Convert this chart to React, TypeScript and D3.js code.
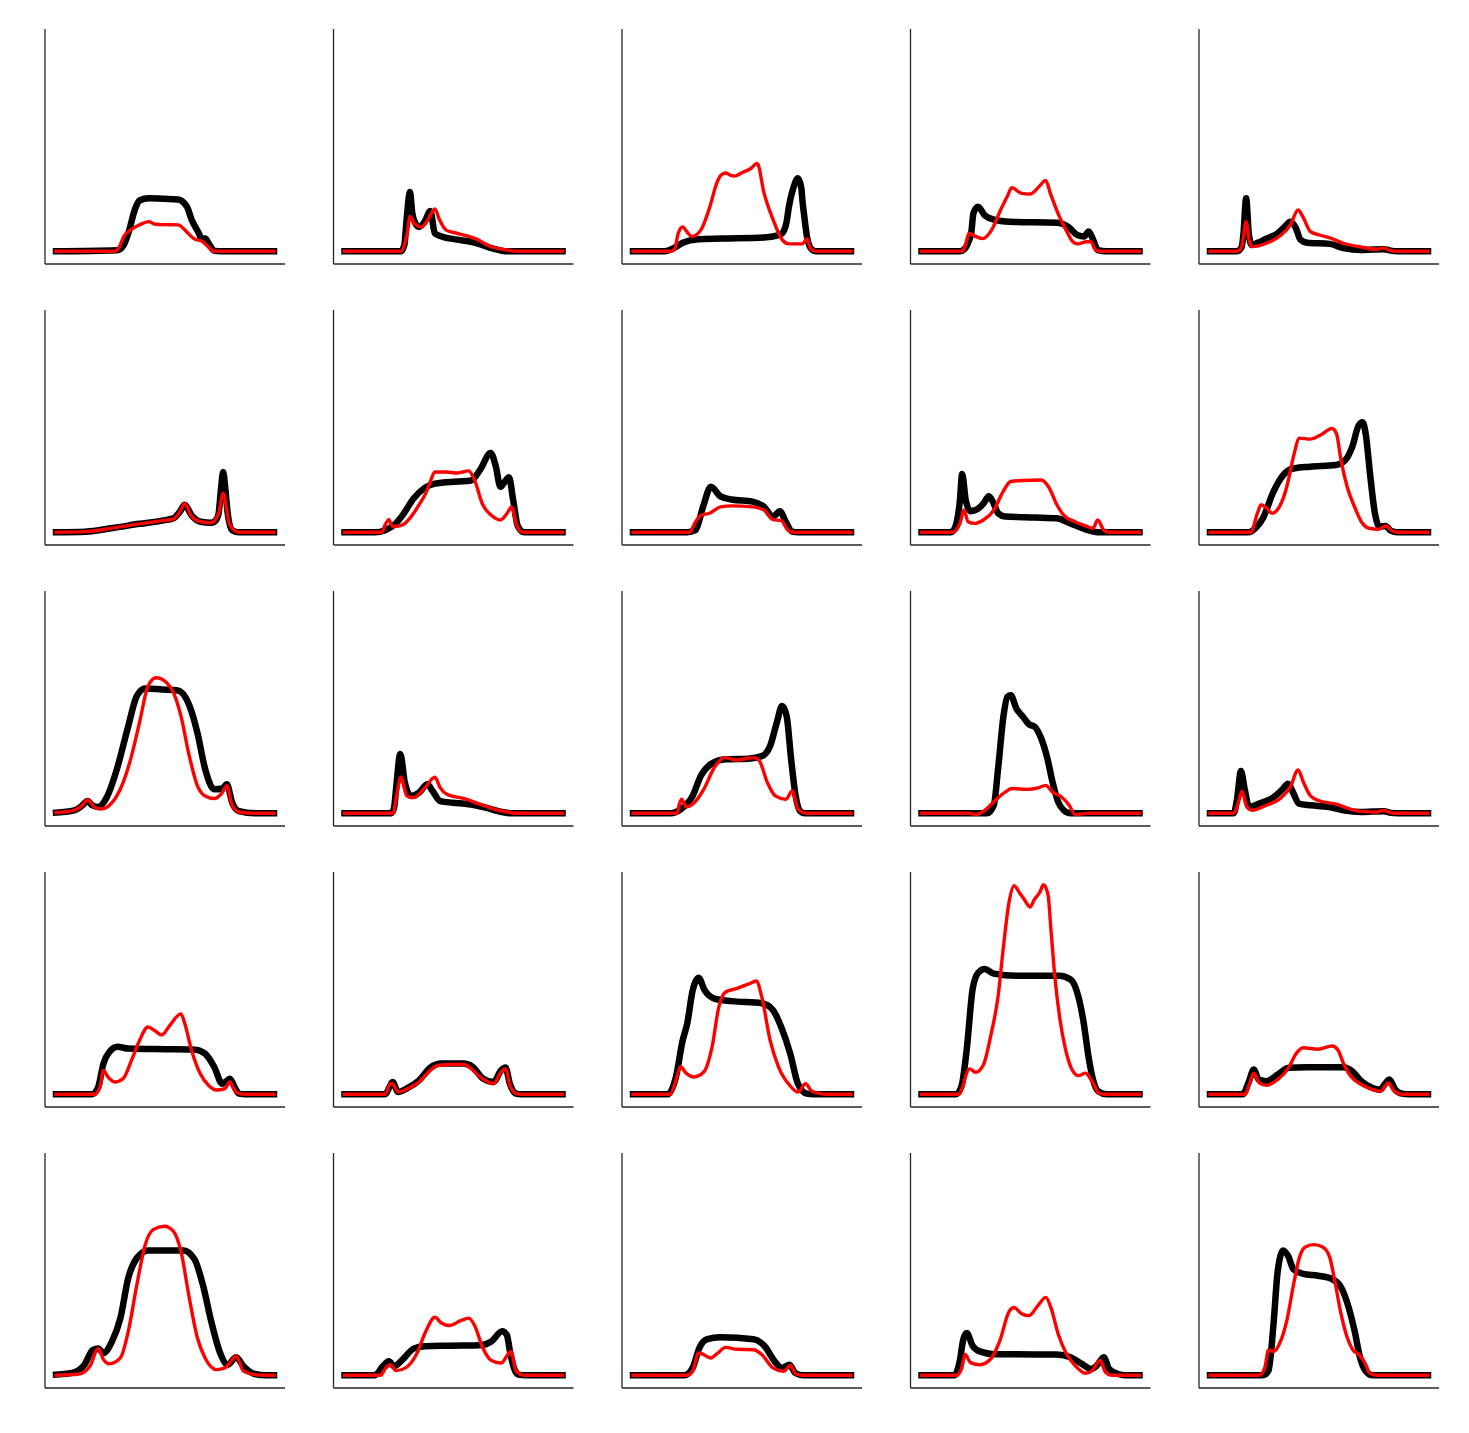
import React, { useEffect, useRef } from "react";
import * as d3 from "d3";

type Pt = [number, number];

// Each entry is one panel (row-major, 5 x 5). x = position across the panel (0-100),
// y = level relative to the tallest trace in the figure.
const thickCurves: Pt[][] = [
  // row 1
  [[2,0],[29,0.005],[32,0.03],[34,0.085],[37,0.2],[39,0.24],[43,0.25],[50,0.248],[56,0.245],[60,0.21],[62,0.15],[65,0.09],[66.5,0.06],[68,0.06],[70,0.03],[72,0.003],[75,0],[98.5,0]],
  [[2,0],[27,0],[28.5,0.03],[29.5,0.15],[31,0.28],[32,0.18],[33.5,0.13],[35,0.115],[37.5,0.14],[40,0.19],[42,0.085],[45,0.07],[52,0.055],[60,0.04],[67,0.015],[74,0],[98.5,0]],
  [[2,0],[16,0],[20,0.015],[24,0.04],[31,0.057],[41,0.06],[60,0.065],[66,0.075],[68,0.085],[70,0.14],[71,0.21],[73,0.3],[75,0.345],[76.5,0.3],[77,0.24],[78,0.15],[79,0.07],[81,0.01],[83,0],[98.5,0]],
  [[2,0],[19,0],[21,0.01],[23,0.05],[24,0.085],[25,0.18],[27,0.21],[30,0.17],[34,0.15],[41,0.14],[62,0.135],[67,0.115],[71,0.077],[74,0.07],[76,0.093],[78,0.054],[80,0.006],[84,0],[98.5,0]],
  [[2,0],[14,0],[16,0.02],[16.8,0.08],[18,0.25],[19.2,0.08],[20.5,0.03],[23,0.04],[27,0.06],[32,0.085],[35,0.115],[37.6,0.14],[40,0.11],[42,0.055],[45,0.04],[55,0.035],[61,0.015],[69,0.006],[79,0.01],[82,0.003],[85,0],[98.5,0]],
  // row 2
  [[2,0],[15,0.003],[27,0.02],[39,0.04],[49,0.055],[54,0.066],[57,0.1],[59,0.13],[62,0.08],[66,0.05],[70.7,0.045],[73,0.06],[74,0.09],[75,0.2],[76,0.285],[77,0.2],[78,0.09],[80,0.01],[83,0],[98.5,0]],
  [[2,0],[15.4,0],[20,0.01],[24,0.035],[27.7,0.08],[32.6,0.16],[37.5,0.21],[42,0.23],[52,0.24],[58,0.245],[62,0.295],[66.7,0.375],[69,0.31],[71,0.215],[73,0.24],[74.8,0.26],[76.7,0.15],[78.7,0.03],[81.6,0],[98.5,0]],
  [[2,0],[26,0],[29.7,0.01],[33,0.12],[36.5,0.215],[40.7,0.17],[45.6,0.155],[55,0.145],[60,0.12],[64,0.075],[67,0.1],[69.6,0.05],[72.5,0.003],[75,0],[98.5,0]],
  [[2,0],[15,0],[17,0.027],[19,0.15],[20,0.275],[21.6,0.15],[23.7,0.1],[26,0.105],[29.4,0.135],[31.8,0.17],[34,0.135],[35.9,0.09],[39,0.075],[52,0.07],[61.7,0.066],[68,0.042],[74.6,0.014],[81,0],[98.5,0]],
  [[2,0],[19,0],[22,0.019],[25.4,0.066],[30,0.19],[34.4,0.27],[38.4,0.3],[46.4,0.31],[57.7,0.318],[61.8,0.34],[65,0.405],[67.8,0.505],[69.5,0.52],[71,0.46],[72.8,0.28],[75,0.09],[77,0.027],[79.7,0.03],[82,0.008],[85,0],[98.5,0]],
  // row 3
  [[2,0.003],[10,0.014],[13.4,0.035],[16,0.058],[18,0.038],[20.7,0.03],[24.4,0.074],[29,0.21],[33.7,0.4],[37.8,0.555],[41.5,0.59],[49,0.585],[56,0.58],[61,0.51],[64.6,0.38],[68,0.21],[72,0.113],[75.6,0.117],[77.6,0.137],[80,0.05],[83,0.01],[90,0],[98.5,0]],
  [[2,0],[22.8,0],[24,0.03],[24.8,0.113],[26.7,0.28],[28.7,0.145],[31.4,0.082],[35,0.098],[38.7,0.137],[41,0.105],[44.4,0.058],[49.8,0.05],[57,0.043],[64.5,0.027],[71.8,0.006],[76,0],[98.5,0]],
  [[2,0],[18.6,0],[23.5,0.022],[28.4,0.082],[32,0.176],[37,0.236],[43,0.255],[53,0.258],[59,0.27],[62.7,0.318],[65.7,0.43],[68,0.507],[70,0.46],[72,0.255],[74,0.082],[76,0.01],[78,0],[98.5,0]],
  [[2,0],[31,0],[34,0.038],[35.9,0.21],[38.3,0.46],[40,0.55],[41.5,0.557],[44,0.495],[47,0.455],[49.6,0.42],[52,0.41],[55,0.353],[57.7,0.26],[60,0.148],[62.5,0.054],[65,0.014],[68,0],[98.5,0]],
  [[2,0],[12.5,0],[14,0.07],[15.7,0.2],[17.3,0.117],[19.3,0.03],[23.8,0.046],[30.3,0.077],[34.4,0.117],[36.5,0.14],[38.7,0.1],[41.3,0.046],[46.5,0.038],[54.6,0.03],[61,0.014],[69,0.006],[79,0.01],[82,0.002],[85,0],[98.5,0]],
  // row 4
  [[2,0],[18,0],[20.7,0.035],[23,0.145],[25.6,0.2],[29.3,0.224],[34,0.216],[51,0.213],[63.4,0.211],[68,0.192],[72,0.13],[75.6,0.05],[77,0.058],[79,0.074],[81,0.035],[83,0.003],[86,0],[98.5,0]],
  [[2,0],[20,0],[22.3,0.043],[23.3,0.058],[25.7,0.011],[30,0.03],[35,0.066],[40,0.126],[44.9,0.145],[54.7,0.145],[58.6,0.13],[63.4,0.074],[68,0.058],[71.3,0.113],[73.3,0.126],[75.2,0.05],[78,0.003],[80,0],[98.5,0]],
  [[2,0],[17.4,0],[21,0.082],[24,0.255],[26,0.334],[28.4,0.49],[31,0.55],[33.8,0.49],[38,0.452],[45.6,0.44],[59,0.43],[64,0.397],[67.6,0.318],[71.6,0.192],[75,0.05],[78.9,0.003],[82,0],[98.5,0]],
  [[2,0],[17.3,0],[19.7,0.038],[22,0.21],[24.6,0.495],[27,0.573],[30,0.592],[34,0.57],[44,0.56],[63,0.56],[68,0.542],[71.4,0.463],[73.8,0.337],[75.9,0.18],[77.9,0.07],[80.3,0.014],[84,0],[98.5,0]],
  [[2,0],[16.5,0],[19,0.054],[21.4,0.117],[23.5,0.07],[27,0.062],[32,0.093],[36.8,0.125],[44.9,0.128],[61,0.128],[65,0.109],[69,0.062],[74,0.03],[77.3,0.022],[79.5,0.05],[81.4,0.07],[84,0.022],[87,0.003],[90,0],[98.5,0]],
  // row 5
  [[2,0.003],[10,0.014],[14.6,0.05],[18.3,0.12],[20.7,0.126],[23,0.105],[26.8,0.16],[30.5,0.27],[34,0.46],[37.8,0.554],[42.7,0.59],[49,0.59],[58.5,0.59],[63.4,0.546],[67,0.428],[70.7,0.255],[74.4,0.113],[78,0.05],[81.7,0.085],[85,0.043],[90,0.006],[95,0],[98.5,0]],
  [[2,0],[15.4,0],[19,0.043],[21.6,0.066],[24,0.043],[27.7,0.074],[32.6,0.126],[37.5,0.137],[47.3,0.14],[62,0.142],[67,0.16],[71.8,0.208],[73.8,0.192],[75.5,0.098],[77,0.035],[79,0.003],[82,0],[98.5,0]],
  [[2,0],[24.8,0],[28.4,0.035],[31.4,0.13],[34.6,0.17],[40.7,0.18],[55.4,0.17],[60.3,0.137],[64.7,0.066],[68,0.035],[71.3,0.05],[73.8,0.011],[77.5,0],[98.5,0]],
  [[2,0],[16.5,0],[19,0.07],[20.5,0.17],[22,0.2],[24.6,0.14],[27.8,0.113],[34,0.1],[61.7,0.098],[68,0.085],[73,0.054],[77,0.03],[79.5,0.045],[82.7,0.085],[85,0.03],[89,0.006],[92,0],[98.5,0]],
  [[2,0],[25.4,0],[27.9,0.022],[30,0.227],[32,0.494],[34.4,0.59],[36.5,0.565],[39,0.5],[43.3,0.479],[49.8,0.47],[56,0.455],[60,0.416],[63.4,0.32],[66,0.21],[68.4,0.085],[70.8,0.022],[74,0],[98.5,0]],
];

const thinCurves: Pt[][] = [
  // row 1
  [[2,0],[28,0],[30,0.02],[32,0.07],[35,0.1],[39,0.125],[43,0.14],[46,0.128],[50,0.126],[56,0.125],[60,0.09],[63,0.06],[67,0.045],[70,0.015],[72,0],[98.5,0]],
  [[2,0],[27,0],[28.5,0.03],[30,0.1],[31,0.165],[33,0.13],[36,0.115],[39,0.15],[42,0.2],[44,0.15],[47,0.1],[52,0.085],[60,0.06],[67,0.022],[74,0.006],[78,0],[98.5,0]],
  [[2,0],[19,0],[20.5,0.01],[22,0.085],[24,0.115],[26,0.09],[28,0.07],[32,0.1],[36,0.21],[39,0.32],[41,0.36],[43,0.37],[45,0.36],[47,0.355],[50,0.37],[54,0.39],[57,0.415],[60,0.275],[64,0.15],[68,0.055],[71,0.035],[77,0.035],[79,0.06],[80.5,0.015],[83,0],[98.5,0]],
  [[2,0],[20,0],[21.5,0.03],[23,0.085],[25,0.075],[29,0.06],[33,0.1],[37,0.195],[40,0.26],[42,0.3],[46,0.275],[50,0.27],[54,0.305],[57,0.335],[59,0.275],[63,0.165],[66,0.1],[69,0.045],[71,0.035],[73,0.04],[75,0.045],[77,0.045],[79,0.006],[81,0],[98.5,0]],
  [[2,0],[14,0],[16,0.02],[16.8,0.07],[18,0.14],[19.2,0.06],[20.5,0.022],[27,0.038],[33.5,0.077],[37.6,0.125],[41,0.195],[43,0.165],[46.5,0.093],[50.5,0.077],[56,0.06],[61,0.038],[69,0.02],[75.7,0.01],[79,0.015],[82,0.003],[85,0],[98.5,0]],
  // row 2
  [[2,0],[15,0.003],[27,0.02],[39,0.04],[49,0.055],[54,0.062],[57,0.1],[59,0.135],[62,0.075],[66,0.05],[70.7,0.045],[74,0.09],[76,0.185],[78.5,0.05],[81,0.008],[83,0],[98.5,0]],
  [[2,0],[18.5,0],[20,0.035],[21.6,0.06],[23,0.03],[24,0.027],[27.7,0.035],[32.6,0.09],[35,0.13],[38,0.185],[40,0.24],[42,0.285],[47,0.285],[52,0.28],[57,0.29],[59.6,0.245],[63,0.135],[67,0.08],[71,0.058],[74,0.09],[76,0.12],[78,0.04],[80,0.003],[82,0],[98.5,0]],
  [[2,0],[27,0],[29.7,0.05],[32,0.08],[35.8,0.09],[40.7,0.12],[45.6,0.125],[55,0.12],[60,0.105],[64,0.06],[67.6,0.055],[70.6,0.01],[73,0],[98.5,0]],
  [[2,0],[16,0],[19,0.042],[20.8,0.105],[22.6,0.05],[25.4,0.042],[29.4,0.058],[34,0.105],[38,0.19],[41.5,0.24],[47,0.245],[55,0.247],[58.5,0.21],[61.7,0.135],[65,0.08],[70,0.05],[74.6,0.03],[77.9,0.019],[80,0.058],[82.7,0.01],[85,0],[98.5,0]],
  [[2,0],[20,0],[23,0.09],[24.6,0.13],[27,0.115],[29.5,0.09],[32.7,0.12],[36,0.215],[39,0.36],[41.6,0.445],[46.4,0.44],[51,0.46],[56,0.49],[58,0.465],[60,0.34],[62.7,0.215],[66,0.12],[69,0.05],[72.5,0.019],[76.5,0.014],[79.7,0.03],[83,0.005],[85,0],[98.5,0]],
  // row 3
  [[2,0.003],[10,0.014],[13.4,0.035],[16,0.063],[19,0.03],[22,0.02],[26.8,0.05],[31.7,0.145],[35.4,0.27],[39,0.43],[42.7,0.6],[46.3,0.64],[51,0.617],[54,0.57],[57.3,0.46],[61,0.27],[64.6,0.13],[68,0.082],[72,0.07],[75.6,0.098],[77.6,0.13],[79.8,0.043],[83,0.006],[90,0],[98.5,0]],
  [[2,0],[23.5,0],[25,0.08],[27,0.17],[29.6,0.082],[32.6,0.074],[37.5,0.12],[42,0.17],[44.4,0.12],[47.3,0.09],[54.7,0.07],[62,0.043],[69.4,0.016],[74,0.006],[78,0],[98.5,0]],
  [[2,0],[21.5,0],[22.3,0.035],[23.5,0.066],[25.5,0.03],[28.4,0.043],[33.3,0.113],[38,0.216],[42.6,0.263],[48,0.252],[55.4,0.263],[57.8,0.25],[61.5,0.145],[65,0.082],[69.6,0.066],[72.5,0.105],[75,0.02],[77.5,0.003],[79,0],[98.5,0]],
  [[2,0],[23,0],[26,-0.006],[30,0.014],[34,0.054],[39,0.1],[42,0.117],[48.8,0.113],[53.6,0.12],[57,0.132],[60,0.1],[64,0.077],[67.4,0.038],[70,-0.006],[73,-0.003],[76,0],[98.5,0]],
  [[2,0],[12.5,0],[14.4,0.045],[16.2,0.104],[18,0.038],[20.6,0.014],[27,0.038],[33.5,0.074],[37.6,0.125],[41,0.205],[43.3,0.148],[46.5,0.082],[50.6,0.058],[58,0.043],[62.7,0.025],[69,0.009],[75.7,0.006],[79,0.014],[82,0.002],[85,0],[98.5,0]],
  // row 4
  [[2,0],[19,0],[21.5,0.035],[23,0.113],[25,0.082],[28,0.058],[31.7,0.074],[35.4,0.16],[39,0.255],[42.7,0.318],[45.8,0.3],[48.8,0.28],[52.4,0.326],[57.3,0.38],[59,0.334],[62,0.208],[65.8,0.098],[69.5,0.043],[73,0.02],[76.8,0.027],[79,0.058],[81,0.02],[83,0.003],[86,0],[98.5,0]],
  [[2,0],[20,0],[22.3,0.05],[23.3,0.05],[25.7,0.011],[30,0.027],[35,0.058],[40,0.113],[43.6,0.137],[54.7,0.142],[57,0.13],[62,0.082],[68,0.05],[71.3,0.105],[73.3,0.12],[75.2,0.043],[78,0.003],[80,0],[98.5,0]],
  [[2,0],[18.5,0],[21,0.066],[23,0.13],[25.5,0.1],[29,0.082],[33.3,0.105],[37,0.224],[40,0.413],[43,0.483],[48,0.5],[53,0.52],[56.6,0.535],[59,0.46],[62.7,0.255],[66.4,0.13],[71.3,0.043],[75,0.011],[78.4,0.05],[81,0.016],[85,0.003],[88,0],[98.5,0]],
  [[2,0],[18.5,0],[20.5,0.045],[22,0.1],[23.3,0.12],[26,0.104],[29.4,0.14],[32.6,0.274],[35.9,0.463],[38.3,0.7],[40.7,0.904],[43,0.985],[45.5,0.95],[47.5,0.92],[50,0.885],[52,0.92],[54.4,0.955],[56,0.99],[58,0.943],[59.3,0.778],[61,0.558],[63.3,0.353],[65.8,0.21],[69,0.109],[71.4,0.088],[74.6,0.1],[77,0.07],[78.7,0.038],[80.3,0.006],[83,0],[98.5,0]],
  [[2,0],[17.5,0],[19.4,0.046],[21.4,0.1],[23.8,0.054],[27,0.042],[32,0.07],[36.8,0.125],[40,0.19],[43.3,0.22],[49.8,0.213],[56,0.228],[58.6,0.21],[61,0.148],[64.3,0.085],[69,0.046],[74,0.022],[77.3,0.014],[81,0.054],[83,0.022],[85.4,0.003],[88,0],[98.5,0]],
  // row 5
  [[2,0],[12,0.006],[17,0.043],[20.7,0.126],[23,0.074],[25.6,0.054],[30.5,0.082],[34,0.208],[37.8,0.428],[41.5,0.617],[45,0.688],[50,0.704],[54,0.68],[57.3,0.586],[61,0.365],[64.6,0.176],[68,0.082],[73,0.027],[76.8,0.035],[79,0.06],[81.7,0.09],[85,0.02],[90,0.003],[95,0],[98.5,0]],
  [[2,0],[18,0],[20.3,0.035],[22.3,0.05],[24.8,0.022],[29,0.035],[33.8,0.098],[38,0.208],[42,0.274],[44.9,0.247],[48.5,0.235],[53.4,0.258],[57,0.27],[59.6,0.235],[63.2,0.13],[67,0.07],[71.3,0.058],[74.3,0.098],[75.7,0.113],[78,0.019],[81.6,0],[98.5,0]],
  [[2,0],[26,0],[28.4,0.019],[31,0.105],[33.3,0.098],[36.3,0.082],[39.5,0.105],[43,0.132],[48,0.123],[55.4,0.121],[59,0.098],[64,0.035],[68.6,0.019],[71.8,0.047],[74,0.006],[77,0],[98.5,0]],
  [[2,0],[17.5,0],[19.7,0.03],[21.3,0.098],[23.7,0.06],[27.8,0.05],[32.6,0.077],[36.7,0.164],[40.7,0.3],[43,0.32],[46.4,0.29],[49.6,0.282],[53.6,0.33],[57,0.368],[59.3,0.32],[62.5,0.195],[65.8,0.109],[70,0.046],[74.6,0.01],[77.5,0.022],[81,0.07],[83.5,0.014],[86,0],[98.5,0]],
  [[2,0],[23.8,0],[26.3,0.038],[27.9,0.12],[30.3,0.113],[32.7,0.148],[36,0.258],[39,0.43],[41.6,0.557],[44,0.605],[48,0.617],[52,0.605],[55,0.557],[57.5,0.43],[60,0.29],[62.7,0.18],[65,0.124],[68.4,0.093],[70.8,0.054],[72.7,0.01],[75.7,0],[98.5,0]],
];

const W = 1469;
const H = 1433;
const nCols = 5;

const App = () => {
  const svgRef = useRef<SVGSVGElement>(null);

  useEffect(() => {
    const svg = d3.select(svgRef.current);
    svg.selectAll("*").remove();

    const panelW = 240;
    const panelH = 235;
    const left = 45;
    const top = 29;
    const stepX = 288.5;
    const stepY = 281;

    // shared scales for every panel
    const allX = thickCurves.flat().map((d) => d[0]);
    const xScale = d3
      .scaleLinear()
      .domain(d3.extent(allX) as [number, number])
      .range([11, panelW - 11]);

    const yScale = d3.scaleLinear().domain([-0.06, 1.05]).range([panelH, 0]);

    const line = d3
      .line<Pt>()
      .x((d) => xScale(d[0]))
      .y((d) => yScale(d[1]))
      .curve(d3.curveMonotoneX);

    thickCurves.forEach((thick, i) => {
      const row = Math.floor(i / nCols);
      const col = i % nCols;
      const g = svg
        .append("g")
        .attr("transform", `translate(${left + col * stepX},${top + row * stepY})`);

      // spines (left + bottom only)
      g.append("line")
        .attr("x1", 0).attr("x2", 0)
        .attr("y1", 0).attr("y2", panelH)
        .attr("stroke", "#262626").attr("stroke-width", 1.3);
      g.append("line")
        .attr("x1", 0).attr("x2", panelW)
        .attr("y1", panelH).attr("y2", panelH)
        .attr("stroke", "#262626").attr("stroke-width", 1.3);

      g.append("path")
        .datum(thick)
        .attr("d", line)
        .attr("fill", "none")
        .attr("stroke", "#000")
        .attr("stroke-width", 6.5)
        .attr("stroke-linejoin", "round")
        .attr("stroke-linecap", "square");

      g.append("path")
        .datum(thinCurves[i])
        .attr("d", line)
        .attr("fill", "none")
        .attr("stroke", "#ff0000")
        .attr("stroke-width", 3.4)
        .attr("stroke-linejoin", "round")
        .attr("stroke-linecap", "square");
    });
  }, []);

  return (
    <svg
      ref={svgRef}
      width={W}
      height={H}
      style={{ position: "absolute", left: 0, top: 0, background: "#fff" }}
    />
  );
};

export default App;
